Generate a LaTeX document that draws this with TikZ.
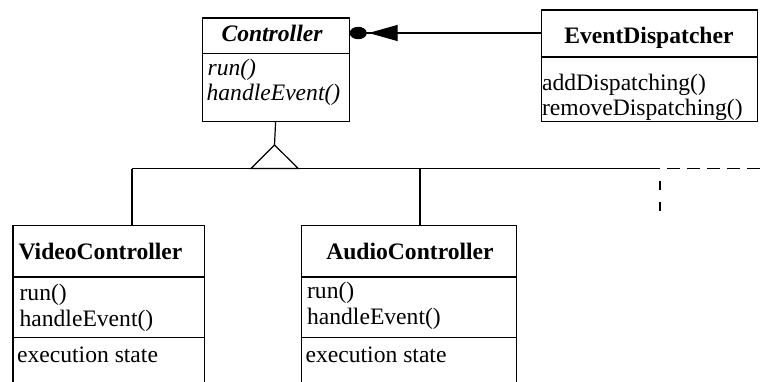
\documentclass[tikz,border=0pt]{standalone}
\usepackage{fontspec}
\setmainfont{Liberation Serif}
\usetikzlibrary{arrows.meta}
\begin{document}
\begin{tikzpicture}[x=1pt,y=-1pt,line width=1.2pt,
  classbox/.style={draw,rectangle,inner sep=0pt,anchor=north west},
  txt/.style={inner sep=0pt,font=\fontsize{23.6}{25}\selectfont},
  ttl/.style={txt,anchor=base,font=\fontsize{23.6}{25}\selectfont\bfseries},
  mem/.style={txt,anchor=base west},
  hdash/.style={dash pattern=on 13pt off 7pt,dash phase=13pt},
  vdash/.style={dash pattern=on 9pt off 12pt,dash phase=9pt}]
\useasboundingbox (0,0) rectangle (760,381);
\clip (0,0) rectangle (760,381);

% class boxes
\node[classbox,minimum width=147pt,minimum height=103.2pt] (ctrl) at (201.5,17.3) {};
\node[classbox,minimum width=216.3pt,minimum height=111.7pt] (ed) at (540.7,9.3) {};
\node[classbox,minimum width=191.7pt,minimum height=200pt] (vc) at (12.3,225) {};
\node[classbox,minimum width=215.3pt,minimum height=200pt] (ac) at (300.7,225) {};

% compartment separators
\draw (ctrl.west |- 0,53.3) -- (ctrl.east |- 0,53.3);
\draw (ed.west |- 0,57) -- (ed.east |- 0,57);
\draw (vc.west |- 0,277) -- (vc.east |- 0,277);
\draw (vc.west |- 0,337.7) -- (vc.east |- 0,337.7);
\draw (ac.west |- 0,277) -- (ac.east |- 0,277);
\draw (ac.west |- 0,337.7) -- (ac.east |- 0,337.7);

% texts
\node[ttl,font=\fontsize{23.6}{25}\selectfont\bfseries\itshape] (ctitle) at (272,41.7) {Controller};
\node[mem,font=\fontsize{23.6}{25}\selectfont\itshape] (crun) at (207,75) {run()};
\node[mem,font=\fontsize{23.6}{25}\selectfont\itshape] (chandle) at (206,100) {handleEvent()};

\node[ttl] (edtitle) at (649,43.3) {EventDispatcher};
\node[mem] (edadd) at (541.5,90) {addDispatching()};
\node[mem] (edrem) at (541.5,115) {removeDispatching()};

\node[ttl] (vtitle) at (100.5,259) {VideoController};
\node[mem] (vrun) at (19,300) {run()};
\node[mem] (vhandle) at (19,326.5) {handleEvent()};
\node[mem] (vstate) at (16.5,362) {execution state};

\node[ttl] (atitle) at (410,259) {AudioController};
\node[mem] (arun) at (306.5,298.3) {run()};
\node[mem] (ahandle) at (306.5,324) {handleEvent()};
\node[mem] (astate) at (305,362) {execution state};

% association with arrowhead and dot
\coordinate (d1) at (ed.west |- 0,33);
\coordinate (d2) at (ctrl.east |- 0,33);
\draw[-{Triangle[length=29pt,width=16pt,sep=2pt]Ellipse[length=17pt,width=12.4pt]}] (d1) -- (d2);

% inheritance
\coordinate (apex) at (274.5,145);
\coordinate (tl) at (251,168.5);
\coordinate (tr) at (298.3,168.5);
\draw (ctrl.south) -- (apex);
\draw (apex) -- (tl) -- (tr) -- cycle;
\coordinate (hl) at (132,168.5);
\coordinate (aj) at (420,168.5);
\coordinate (hr) at (660,168.5);
\coordinate (hend) at (760,168.5);
\coordinate (vend) at (660,217);
\draw (hl) -- (hr);
\draw (hl) -- (vc.north -| hl);
\draw (aj) -- (ac.north -| aj);
\draw[hdash] (hr) -- (hend);
\draw[vdash] (hr) -- (vend);
\end{tikzpicture}
\end{document}
